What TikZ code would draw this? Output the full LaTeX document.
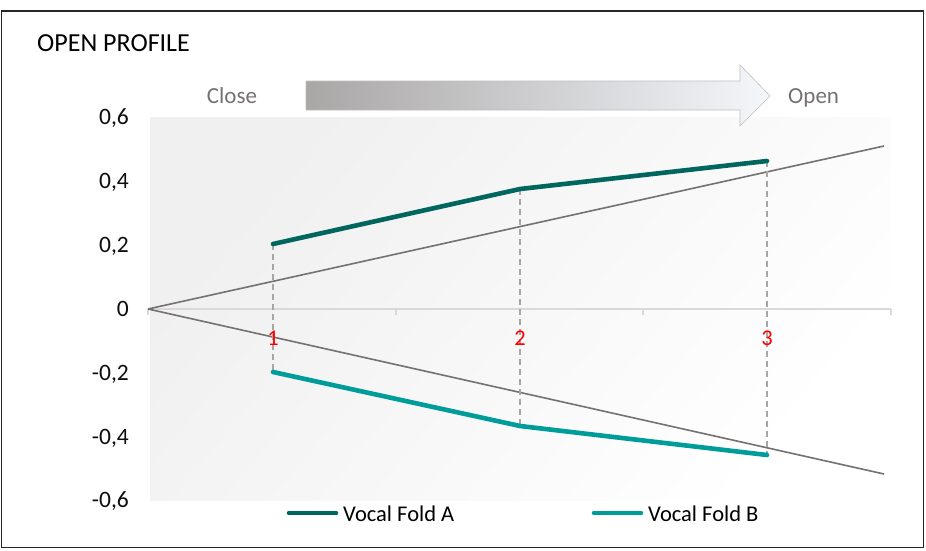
\documentclass[tikz,border=0pt]{standalone}
\usepackage{fontspec}
\setmainfont{Carlito}
\definecolor{foldA}{HTML}{00665E}
\definecolor{foldB}{HTML}{009C9A}
\definecolor{guide}{HTML}{767171}
\definecolor{dashc}{HTML}{A6A6A6}
\definecolor{axisc}{HTML}{D9D9D9}
\definecolor{labelgray}{HTML}{767171}
\definecolor{arrowL}{HTML}{A9A6A6}
\definecolor{arrowR}{HTML}{F4F7FB}
\definecolor{arrowedge}{HTML}{BFBFBF}
\definecolor{ticktext}{HTML}{0D0D0D}
\begin{document}
\begin{tikzpicture}[x=1pt,y=-1pt,
  ticklabel/.style={anchor=base east, text=ticktext, font=\fontsize{23.5}{28}\selectfont, inner sep=0pt},
  catlabel/.style={anchor=base, text=red, font=\fontsize{22.5}{27}\selectfont, inner sep=0pt},
  sidelabel/.style={text=labelgray, font=\fontsize{23}{28}\selectfont, inner sep=0pt},
  legendtext/.style={anchor=base west, text=black, font=\fontsize{22.5}{27}\selectfont, inner sep=0pt},
  guideline/.style={guide, line width=1.6pt},
  dropline/.style={dashc, line width=1.5pt, dash pattern=on 6pt off 4pt},
  serieA/.style={foldA, line width=4.6pt, line cap=round, line join=round},
  serieB/.style={foldB, line width=4.6pt, line cap=round, line join=round},
  ticklinestyle/.style={axisc, line width=1.3pt}
]
\useasboundingbox (0,0) rectangle (926,551);
% outer frame
\draw[line width=1.3pt, black!85] (1.5,11) rectangle (923.5,547.5);
% plot area background
\path[top color=black!6, bottom color=white, shading angle=50] (150,117) rectangle (891,500);
% title
\node[anchor=base west, inner sep=0pt, font=\fontsize{26}{30}\selectfont] (title) at (37,52) {OPEN PROFILE};
% arrow
\path[left color=arrowL, right color=arrowR, draw=arrowedge, line width=0.6pt]
  (306,81) -- (740,81) -- (740,65) -- (770,96) -- (740,126) -- (740,110) -- (306,110) -- cycle;
\node[sidelabel, anchor=base] (close) at (232,103) {Close};
\node[sidelabel, anchor=base west] (open) at (788,103) {Open};
% axis
\coordinate (ax0) at (148,309);
\coordinate (ax1) at (891,309);
\draw[ticklinestyle] (ax0) -- (ax1);
\foreach \t/\xx in {t0/148,t1/396,t2/643,t3/891}{
  \coordinate (\t) at (\xx,309);
  \draw[ticklinestyle] (\t) -- ++(0,6);
}
% y tick labels
\node[ticklabel] (y6) at (129,124) {0,6};
\node[ticklabel] (y4) at (129,188) {0,4};
\node[ticklabel] (y2) at (129,252) {0,2};
\node[ticklabel] (y0) at (129,316) {0};
\node[ticklabel] (ym2) at (129,380) {-0,2};
\node[ticklabel] (ym4) at (129,444) {-0,4};
\node[ticklabel] (ym6) at (129,507) {-0,6};
% guide lines
\coordinate (O) at (148,309);
\coordinate (U) at (884,146);
\coordinate (L) at (884,474);
\draw[guideline] (O) -- (U);
\draw[guideline] (O) -- (L);
% data points
\coordinate (a1) at (273,244);
\coordinate (a2) at (520,189);
\coordinate (a3) at (767,161);
\coordinate (b1) at (273,372);
\coordinate (b2) at (520,426);
\coordinate (b3) at (767,455);
% drop lines
\draw[dropline] (a1) -- (b1);
\draw[dropline] (a2) -- (b2);
\draw[dropline] (a3) -- (b3);
% category labels
\node[catlabel] (c1) at (273,345) {1};
\node[catlabel] (c2) at (520,345) {2};
\node[catlabel] (c3) at (767,345) {3};
% series
\draw[serieA] (a1) -- (a2) -- (a3);
\draw[serieB] (b1) -- (b2) -- (b3);
% legend
\coordinate (la0) at (289,513);
\coordinate (la1) at (336,513);
\coordinate (lb0) at (594,513);
\coordinate (lb1) at (641,513);
\draw[serieA] (la0) -- (la1);
\draw[serieB] (lb0) -- (lb1);
\node[legendtext] (legA) at (343,521) {Vocal Fold A};
\node[legendtext] (legB) at (648,521) {Vocal Fold B};
\end{tikzpicture}
\end{document}
